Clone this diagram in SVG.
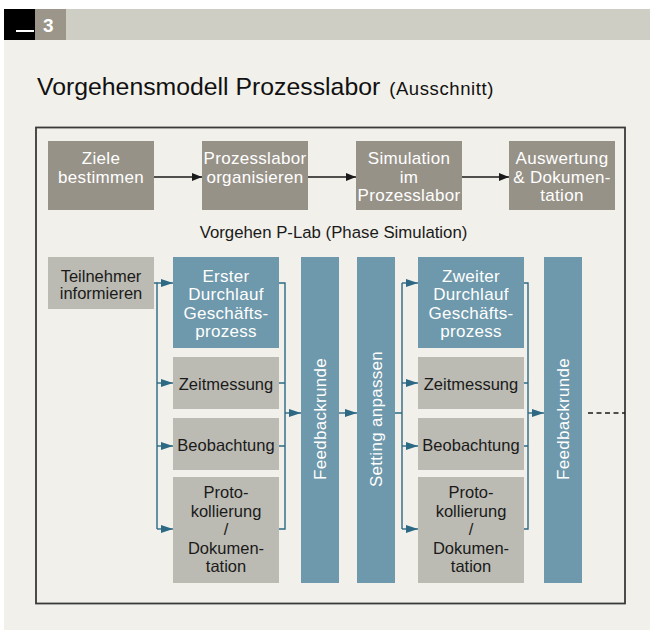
<svg xmlns="http://www.w3.org/2000/svg" width="650" height="631" viewBox="0 0 650 631">
<defs>
<style>
text{font-family:"Liberation Sans",Arial,sans-serif;}
.w{fill:#ffffff;font-size:17px;text-anchor:middle;letter-spacing:0.3px;}
.d{fill:#1a1a1a;font-size:16.5px;text-anchor:middle;}
.g1{fill:#979287;}
.g2{fill:#bcbbb3;}
.bl{fill:#6e98ab;}
.ka{stroke:#1a1a1a;stroke-width:1.5;fill:none;}
.ba{stroke:#2d6985;stroke-width:1.4;fill:none;}
</style>
<marker id="ak" viewBox="0 0 10 8" refX="10" refY="4" markerWidth="10" markerHeight="8" markerUnits="userSpaceOnUse" orient="auto"><path d="M0,0 L10,4 L0,8 Z" fill="#1a1a1a"/></marker>
<marker id="ab" viewBox="0 0 12 8" refX="12" refY="4" markerWidth="12" markerHeight="8" markerUnits="userSpaceOnUse" orient="auto"><path d="M0,0 L12,4 L0,8 Z" fill="#2d6985"/></marker>
</defs>
<rect x="0" y="0" width="650" height="631" fill="#ffffff"/>
<rect x="4" y="40" width="646" height="590" fill="#f1f0ea"/>
<g id="header">
<rect x="4" y="9" width="646" height="31" fill="#cfcec4"/>
<rect x="4" y="9" width="31" height="31" fill="#000000"/>
<rect x="16" y="30" width="18" height="2" fill="#ffffff"/>
<rect x="35" y="9" width="31" height="31" fill="#9b958a"/>
<text x="43" y="32" style="fill:#ffffff;font-size:19px;font-weight:bold;">3</text>
</g>
<g id="title">
<text x="37" y="95" style="fill:#111111;font-size:24.8px;">Vorgehensmodell Prozesslabor <tspan dx="2" style="font-size:18.5px;letter-spacing:0.6px;">(Ausschnitt)</tspan></text>
</g>
<rect id="frame" x="36" y="127.5" width="589" height="476" fill="none" stroke="#3a3a3a" stroke-width="1.8"/>
<g id="ziele"><rect class="g1" x="48" y="141" width="106" height="69"/><text class="w" x="101" y="164">Ziele<tspan x="101" y="183">bestimmen</tspan></text></g>
<g id="organisieren"><rect class="g1" x="202" y="141" width="106" height="69"/><text class="w" x="255" y="164">Prozesslabor<tspan x="255" y="183">organisieren</tspan></text></g>
<g id="simulation"><rect class="g1" x="356" y="141" width="106" height="69"/><text class="w" x="409" y="164">Simulation<tspan x="409" y="183">im</tspan><tspan x="409" y="201">Prozesslabor</tspan></text></g>
<g id="auswertung"><rect class="g1" x="509" y="141" width="106" height="69"/><text class="w" x="562" y="164">Auswertung<tspan x="562" y="183">&amp; Dokumen-</tspan><tspan x="562" y="201">tation</tspan></text></g>
<g id="phase-label"><text x="333.5" y="238" style="fill:#1a1a1a;font-size:16.8px;text-anchor:middle;">Vorgehen P-Lab (Phase Simulation)</text></g>
<g id="teilnehmer"><rect class="g2" x="48" y="257" width="106" height="52"/><text class="d" x="101" y="282">Teilnehmer<tspan x="101" y="299">informieren</tspan></text></g>
<g id="erster"><rect class="bl" x="173" y="257" width="106" height="91"/><text class="w" x="226" y="282">Erster<tspan x="226" y="300">Durchlauf</tspan><tspan x="226" y="318.5">Geschäfts-</tspan><tspan x="226" y="337">prozess</tspan></text></g>
<g id="zeit1"><rect class="g2" x="173" y="357" width="106" height="52"/><text class="d" x="226" y="390">Zeitmessung</text></g>
<g id="beob1"><rect class="g2" x="173" y="418" width="106" height="52"/><text class="d" x="226" y="451">Beobachtung</text></g>
<g id="proto1"><rect class="g2" x="173" y="477" width="106" height="106"/><text class="d" x="226" y="498">Proto-<tspan x="226" y="516.5">kollierung</tspan><tspan x="226" y="535">/</tspan><tspan x="226" y="553.5">Dokumen-</tspan><tspan x="226" y="572">tation</tspan></text></g>
<g id="feedback1"><rect class="bl" x="301" y="257" width="38" height="326"/><text class="w" transform="translate(326,419) rotate(-90)">Feedbackrunde</text></g>
<g id="setting"><rect class="bl" x="357" y="257" width="38" height="326"/><text class="w" transform="translate(382,419) rotate(-90)">Setting anpassen</text></g>
<g id="zweiter"><rect class="bl" x="418" y="257" width="106" height="91"/><text class="w" x="471" y="282">Zweiter<tspan x="471" y="300">Durchlauf</tspan><tspan x="471" y="318.5">Geschäfts-</tspan><tspan x="471" y="337">prozess</tspan></text></g>
<g id="zeit2"><rect class="g2" x="418" y="357" width="106" height="52"/><text class="d" x="471" y="390">Zeitmessung</text></g>
<g id="beob2"><rect class="g2" x="418" y="418" width="106" height="52"/><text class="d" x="471" y="451">Beobachtung</text></g>
<g id="proto2"><rect class="g2" x="418" y="477" width="106" height="106"/><text class="d" x="471" y="498">Proto-<tspan x="471" y="516.5">kollierung</tspan><tspan x="471" y="535">/</tspan><tspan x="471" y="553.5">Dokumen-</tspan><tspan x="471" y="572">tation</tspan></text></g>
<g id="feedback2"><rect class="bl" x="544" y="257" width="38" height="326"/><text class="w" transform="translate(569,419) rotate(-90)">Feedbackrunde</text></g>
<g id="connectors">
<path class="ka" d="M154,177 H202" marker-end="url(#ak)"/>
<path class="ka" d="M308,177 H356" marker-end="url(#ak)"/>
<path class="ka" d="M462,177 H509" marker-end="url(#ak)"/>
<path class="ba" d="M154,283 H157 V529"/>
<path class="ba" d="M157,283 H173" marker-end="url(#ab)"/>
<path class="ba" d="M157,383 H173" marker-end="url(#ab)"/>
<path class="ba" d="M157,446 H173" marker-end="url(#ab)"/>
<path class="ba" d="M157,529 H173" marker-end="url(#ab)"/>
<path class="ba" d="M279,283 H285 V529 H279 M279,383 H285 M279,446 H285"/>
<path class="ba" d="M285,413 H301" marker-end="url(#ab)"/>
<path class="ba" d="M339,413 H357" marker-end="url(#ab)"/>
<path class="ba" d="M395,413 H402 M402,283 V529"/>
<path class="ba" d="M402,283 H418" marker-end="url(#ab)"/>
<path class="ba" d="M402,383 H418" marker-end="url(#ab)"/>
<path class="ba" d="M402,446 H418" marker-end="url(#ab)"/>
<path class="ba" d="M402,529 H418" marker-end="url(#ab)"/>
<path class="ba" d="M524,283 H528 V529 H524 M524,383 H528 M524,446 H528"/>
<path class="ba" d="M528,413 H544" marker-end="url(#ab)"/>
<path d="M588,413 H625" stroke="#1a1a1a" stroke-width="1.5" stroke-dasharray="5,3.5" fill="none"/>
</g>
</svg>
